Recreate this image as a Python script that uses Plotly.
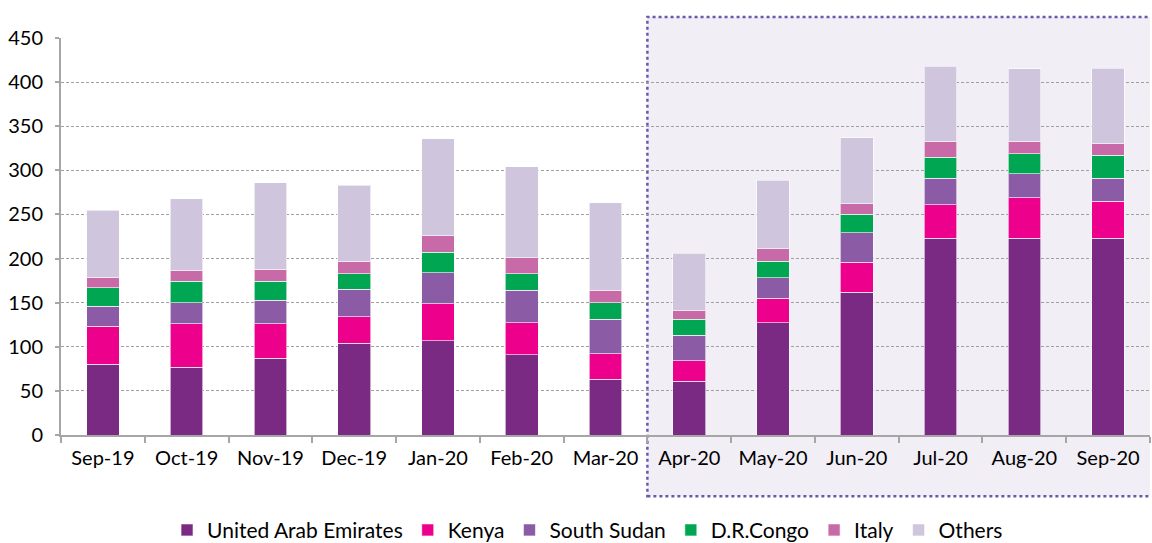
import plotly.graph_objects as go

months = ["Sep-19", "Oct-19", "Nov-19", "Dec-19", "Jan-20", "Feb-20", "Mar-20",
          "Apr-20", "May-20", "Jun-20", "Jul-20", "Aug-20", "Sep-20"]
uae = [80, 77, 87, 104, 107, 91, 63, 61, 127, 162, 223, 223, 223]
kenya = [43, 49, 39, 30, 42, 36, 29, 23, 28, 34, 38, 46, 42]
south_sudan = [23, 24, 27, 31, 35, 37, 39, 29, 23, 33, 30, 27, 26]
dr_congo = [21, 24, 21, 18, 23, 19, 19, 18, 19, 21, 24, 23, 26]
italy = [12, 12, 14, 14, 19, 18, 14, 10, 14, 12, 18, 14, 13]
others = [76, 82, 98, 86, 110, 103, 99, 65, 78, 75, 85, 82, 86]

series = [
    ("United Arab Emirates", uae, "#7B2A84"),
    ("Kenya", kenya, "#EC008C"),
    ("South Sudan", south_sudan, "#8B5CA5"),
    ("D.R.Congo", dr_congo, "#00A651"),
    ("Italy", italy, "#C86AA8"),
    ("Others", others, "#CFC5DC"),
]

fig = go.Figure()
for name, vals, col in series:
    fig.add_trace(go.Bar(
        x=months, y=vals, name=name,
        marker=dict(color=col, line=dict(color="rgba(255,255,255,0.6)", width=1)),
    ))

font_family = "Lato, 'Open Sans', sans-serif"

fig.update_layout(
    width=1152, height=543,
    barmode="stack", bargap=0.61,
    plot_bgcolor="rgba(0,0,0,0)", paper_bgcolor="white",
    margin=dict(l=61, r=2, t=38, b=108, autoexpand=False),
    font=dict(family=font_family, size=18, color="#000000"),
    showlegend=True,
    legend=dict(orientation="h", x=0.4835, xanchor="center", y=-0.24, yanchor="middle",
                font=dict(size=21), traceorder="normal", itemwidth=30),
    shapes=[dict(
        type="rect", xref="x", yref="paper",
        x0=6.5, x1=13.0, y0=-0.154, y1=1.053,
        fillcolor="#F1EEF6", line=dict(color="#6A5AAE", width=2.5, dash="dot"),
        layer="below",
    )],
)

fig.update_xaxes(
    type="category", showline=True, linecolor="#A6A6A6", linewidth=2,
    ticks="outside", tickson="boundaries", ticklen=6, tickcolor="#A6A6A6", tickwidth=2,
    showgrid=False, range=[-0.5, 12.5], tickfont=dict(size=20), automargin=False,
    ticklabelstandoff=4,
)
fig.update_yaxes(
    range=[0, 450], dtick=50, showline=True, linecolor="#A6A6A6", linewidth=2,
    ticks="outside", ticklen=4, tickcolor="#A6A6A6", tickwidth=2,
    showgrid=True, gridcolor="#A0A0A0", gridwidth=1, griddash="3px,2px",
    zeroline=False, tickfont=dict(size=20), ticklabelstandoff=8, automargin=False,
)

fig.write_html("out.html", config={"displayModeBar": False},
               post_script="document.body.style.margin='0';")
